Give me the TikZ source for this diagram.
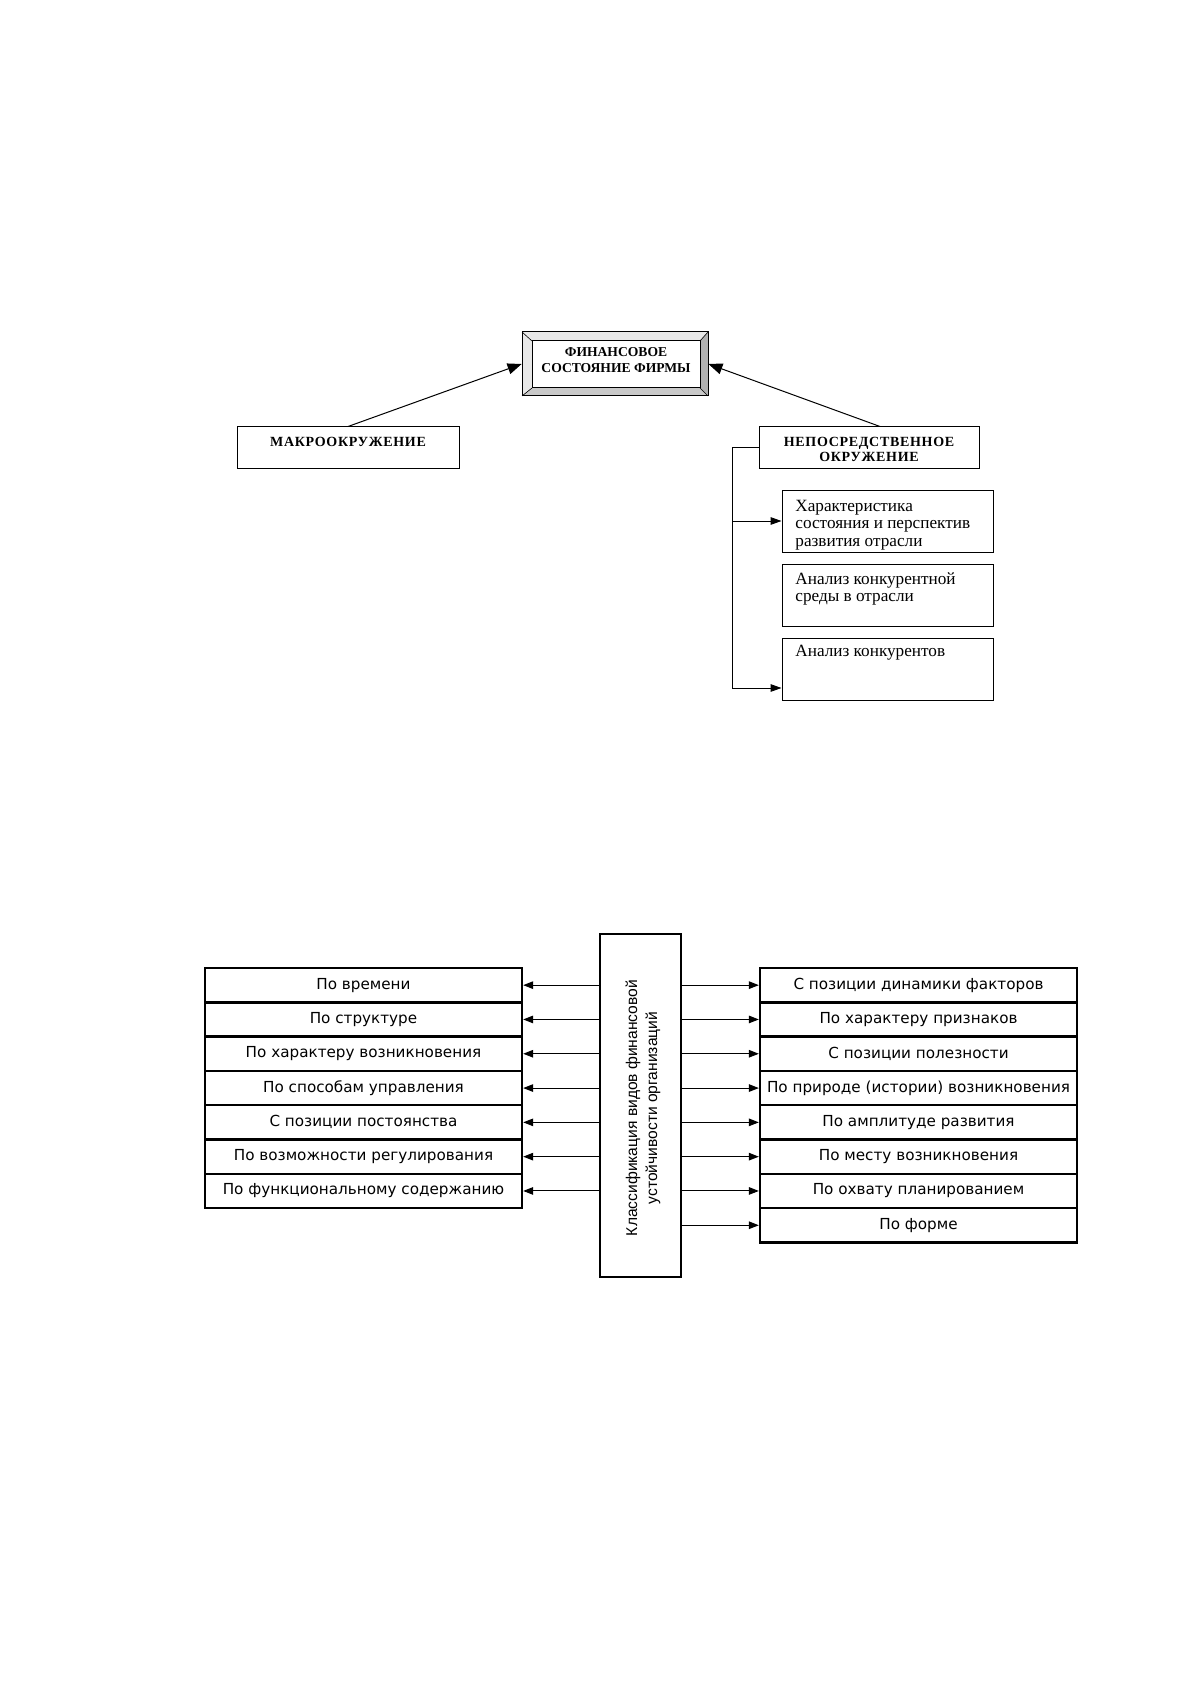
\documentclass[tikz,border=0pt]{standalone}
\usepackage{fontspec}
\setmainfont{Liberation Serif}
\newfontfamily\dvfont{DejaVu Sans}
\newfontfamily\lsfont{Liberation Sans}
\newfontfamily\hdrfont[LetterSpace=5]{Liberation Serif}
\usetikzlibrary{arrows.meta,calc}
\begin{document}
\begin{tikzpicture}[x=0.5pt,y=-0.5pt,
  thinline/.style={line width=0.5pt},
  arrT/.style={thinline,-{Triangle[length=7pt,width=5.5pt]}},
  arrM/.style={thinline,-{Triangle[length=5.5pt,width=3.8pt]}},
  arrS/.style={thinline,-{Triangle[length=5pt,width=3.8pt]}},
  hdr/.style={font=\hdrfont\fontsize{7}{7.6}\selectfont\bfseries,align=center,inner sep=0pt},
  finhdr/.style={font=\fontsize{6.8}{7.6}\selectfont\bfseries,align=center,inner sep=0pt},
  topbox/.style={draw,thinline,inner sep=0pt},
  subtxt/.style={font=\fontsize{8.6}{8.9}\selectfont,align=left,anchor=west,inner sep=0pt},
  rowbox/.style={draw,line width=1.2pt,minimum width=158.5pt,minimum height=17.15pt,inner sep=0pt,font=\dvfont\fontsize{7.6}{9}\selectfont},
  bevlight/.style={fill=gray!18},
  bevdark/.style={fill=gray!60},
  bevmid/.style={fill=gray!42}
]
\useasboundingbox[fill=white] (0,0) rectangle (1191,1684);

% ---------- top diagram ----------
\fill[bevlight] (522,332) -- (708,332) -- (700,341) -- (532,341) -- cycle;
\fill[bevlight] (522,332) -- (532,341) -- (532,388) -- (522,396) -- cycle;
\fill[bevdark] (708,332) -- (708,396) -- (700,388) -- (700,341) -- cycle;
\fill[bevmid] (522,396) -- (708,396) -- (700,388) -- (532,388) -- cycle;
\draw[thinline] (522,332) rectangle (708,396);
\draw[thinline] (532,341) rectangle (700,388);
\draw[line width=0.3pt] (522,332) -- (532,341) (708,332) -- (700,341)
  (522,396) -- (532,388) (708,396) -- (700,388);
\node[minimum width=93pt,minimum height=32pt,inner sep=0pt] (fin) at (615,364) {};
\node[finhdr] (fintxt) at (616,360) {ФИНАНСОВОЕ\\СОСТОЯНИЕ ФИРМЫ};

\node[topbox,minimum width=111pt,minimum height=20.5pt] (mak) at (348,447.5) {};
\node[hdr] (maktxt) at (348,442) {МАКРООКРУЖЕНИЕ};

\node[topbox,minimum width=110pt,minimum height=20.5pt] (nep) at (869,447.5) {};
\node[hdr] (neptxt) at (869,449.5) {НЕПОСРЕДСТВЕННОЕ\\ОКРУЖЕНИЕ};

\node[topbox,minimum width=105.5pt,minimum height=31pt] (b1) at (887.5,521) {};
\node[subtxt] (b1t) at (795,525) {Характеристика\\состояния и перспектив\\развития отрасли};
\node[topbox,minimum width=105.5pt,minimum height=31pt] (b2) at (887.5,595) {};
\node[subtxt] (b2t) at (795,589) {Анализ конкурентной\\среды в отрасли};
\node[topbox,minimum width=105.5pt,minimum height=31pt] (b3) at (887.5,669) {};
\node[subtxt] (b3t) at (795,653) {Анализ конкурентов};

\draw[arrT] (mak.north) -- (fin.west);
\draw[arrT] ($(nep.north)+(11,0)$) -- (fin.east);

\coordinate (b3in) at ($(b3.west)+(0,19)$);
\coordinate (midjoin) at (733,521);
\draw[arrM] (nep.west) -- ++(-26,0) |- (b3in);
\draw[arrM] (midjoin) -- (b1.west);

% ---------- bottom diagram ----------
\node[draw,line width=1.2pt,minimum width=40.5pt,minimum height=171.5pt,inner sep=0pt] (cls) at (640.5,1105.5) {};
\node[rotate=90,align=center,inner sep=0pt,font=\lsfont\fontsize{7.8}{10}\selectfont] (clstxt) at (643,1108)
  {Классификация видов финансовой\\устойчивости организаций};

\foreach \t [count=\i from 0] in {По времени,По структуре,По характеру возникновения,По способам управления,С позиции постоянства,По возможности регулирования,По функциональному содержанию}{
  \node[rowbox] (L\i) at (363.5,{968+17.15+34.3*\i}) {\t};
  \draw[arrS] (cls.west |- L\i) -- (L\i.east);
}
\foreach \t [count=\i from 0] in {С позиции динамики факторов,По характеру признаков,С позиции полезности,По природе (истории) возникновения,По амплитуде развития,По месту возникновения,По охвату планированием,По форме}{
  \node[rowbox] (R\i) at (918.5,{968+17.15+34.3*\i}) {\t};
  \draw[arrS] (cls.east |- R\i) -- (R\i.west);
}
\end{tikzpicture}
\end{document}
